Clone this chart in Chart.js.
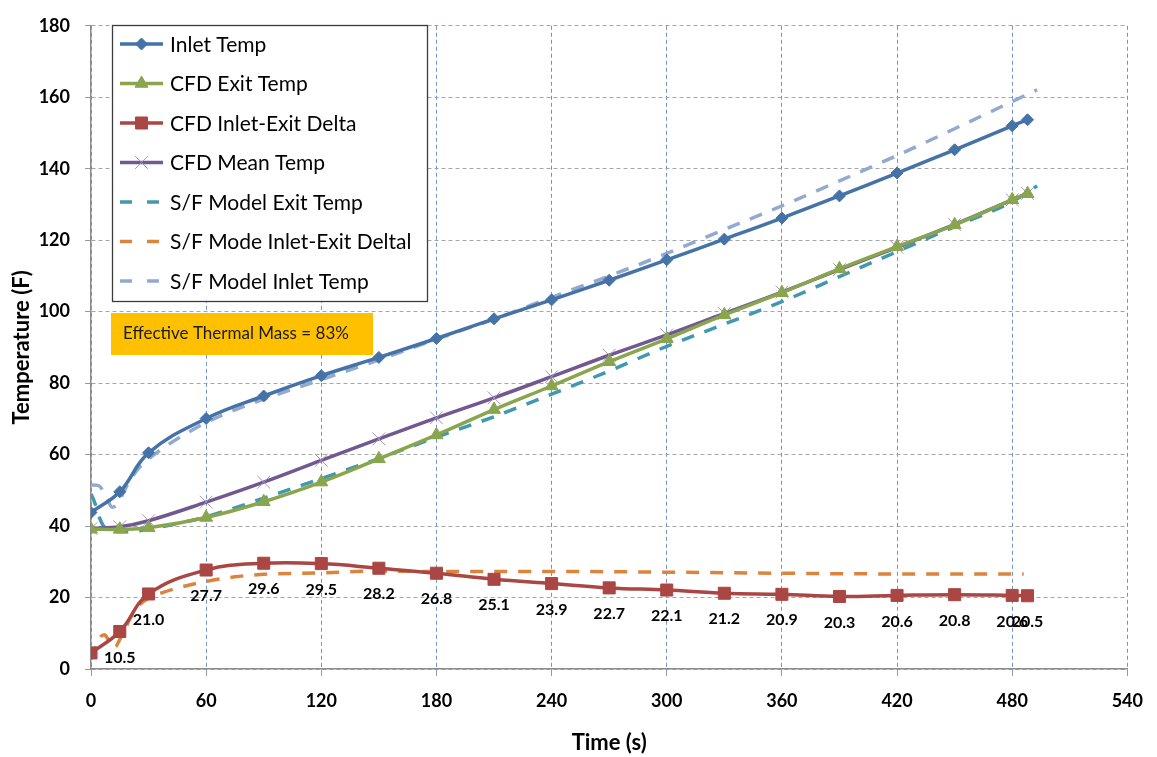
<!DOCTYPE html>
<html><head><meta charset="utf-8">
<script src="https://cdn.jsdelivr.net/npm/chart.js@4.4.1/dist/chart.umd.min.js"></script>
<style>html,body{margin:0;padding:0;background:#fff}</style>
</head><body>
<canvas id="c" width="1157" height="757" style="display:block;width:1157px;height:757px"></canvas>
<script>
// ---- Data ----
const cfdTime      = [0, 15, 30, 60, 90, 120, 150, 180, 210, 240, 270, 300, 330, 360, 390, 420, 450, 480, 488];
const inletTemp    = [43.8, 49.6, 60.5, 70.1, 76.4, 82.1, 87.2, 92.5, 98.0, 103.3, 108.8, 114.5, 120.3, 126.2, 132.4, 138.8, 145.3, 152.0, 153.7];
const cfdExitTemp  = [39.1, 39.1, 39.5, 42.4, 46.8, 52.3, 58.8, 65.5, 72.6, 79.2, 86.0, 92.4, 99.1, 105.3, 112.0, 118.2, 124.3, 131.3, 133.0];
const cfdDelta     = [4.5, 10.5, 21.0, 27.7, 29.6, 29.5, 28.2, 26.8, 25.1, 23.9, 22.7, 22.1, 21.2, 20.9, 20.3, 20.6, 20.8, 20.6, 20.5];
const cfdMeanTemp  = [39.3, 39.8, 41.5, 46.7, 52.3, 58.4, 64.4, 70.3, 75.9, 81.8, 87.8, 93.5, 99.5, 105.5, 111.8, 118.0, 124.4, 131.3, 133.1];

const sfExitTime   = [0, 2, 4, 6, 8, 10, 15, 20, 30, 45, 60, 90, 120, 150, 180, 210, 240, 270, 300, 330, 360, 390, 420, 450, 480, 493];
const sfExitTemp   = [49.0, 46.5, 43.0, 40.5, 39.2, 38.7, 38.4, 38.4, 39.2, 40.7, 42.6, 47.8, 53.3, 58.9, 64.9, 70.6, 76.9, 83.4, 90.3, 96.5, 102.8, 109.8, 116.8, 123.8, 130.8, 135.2];

const sfDeltaTime  = [0, 3, 5, 7, 9, 11, 13, 15, 18, 21, 25, 30, 38, 46, 60, 75, 90, 120, 150, 180, 240, 300, 360, 420, 486];
const sfDelta      = [2.8, 6.8, 9.0, 9.6, 8.2, 6.0, 6.3, 8.3, 11.5, 14.8, 17.8, 19.8, 21.5, 22.8, 24.5, 25.8, 26.5, 26.9, 27.4, 27.3, 27.3, 27.1, 26.8, 26.6, 26.6];

const sfInletTime  = [0, 4, 8, 11, 14, 17, 20, 25, 30, 40, 50, 60, 75, 90, 120, 150, 180, 210, 240, 270, 300, 330, 360, 390, 420, 450, 480, 493];
const sfInletTemp  = [51.5, 51.3, 48.0, 45.3, 46.3, 49.5, 52.5, 56.3, 58.8, 62.7, 66.0, 69.0, 72.5, 75.5, 81.0, 86.5, 92.3, 97.9, 104.0, 110.0, 116.3, 123.0, 129.6, 136.6, 143.7, 151.2, 158.8, 162.1];

const xTicks = [0, 60, 120, 180, 240, 300, 360, 420, 480, 540];
const yTicks = [0, 20, 40, 60, 80, 100, 120, 140, 160, 180];

const seriesNames = ['Inlet Temp', 'CFD Exit Temp', 'CFD Inlet-Exit Delta', 'CFD Mean Temp',
  'S/F Model Exit Temp', 'S/F Mode Inlet-Exit Deltal', 'S/F Model Inlet Temp'];
const annotationText = 'Effective Thermal Mass = 83%';

const pts = (xs, ys) => xs.map((x, i) => ({x: x, y: ys[i]}));
const FONT = 'Lato, "Open Sans", sans-serif';
const DASH = [13, 11];

const datasets = [
  {label: seriesNames[0], data: pts(cfdTime, inletTemp), borderColor: '#4572A7', backgroundColor: '#4572A7',
   borderWidth: 3.5, pointStyle: 'rectRot', pointRadius: 6, pointBorderWidth: 1, pointBorderColor: '#4572A7', tension: 0.4, order: 1},
  {label: seriesNames[1], data: pts(cfdTime, cfdExitTemp), borderColor: '#89A54E', backgroundColor: '#89A54E',
   borderWidth: 3.5, pointStyle: 'triangle', pointRadius: 7.5, pointBorderWidth: 1, pointBorderColor: '#89A54E', tension: 0.4, order: 2},
  {label: seriesNames[2], data: pts(cfdTime, cfdDelta), borderColor: '#AA4643', backgroundColor: '#AA4643',
   borderWidth: 3.5, pointStyle: 'rect', pointRadius: 8.5, pointBorderWidth: 1, pointBorderColor: '#AA4643', tension: 0.4, order: 3},
  {label: seriesNames[3], data: pts(cfdTime, cfdMeanTemp), borderColor: '#71588F', backgroundColor: '#A394C0',
   borderWidth: 3.5, pointStyle: 'crossRot', pointRadius: 9, pointBorderWidth: 1, pointBorderColor: '#A394C0', tension: 0.4, order: 4},
  {label: seriesNames[4], data: pts(sfExitTime, sfExitTemp), borderColor: '#4198AF', backgroundColor: '#4198AF',
   borderWidth: 3.5, borderDash: DASH, pointRadius: 0, cubicInterpolationMode: 'monotone', order: 5},
  {label: seriesNames[5], data: pts(sfDeltaTime, sfDelta), borderColor: '#DB843D', backgroundColor: '#DB843D',
   borderWidth: 3.5, borderDash: DASH, pointRadius: 0, cubicInterpolationMode: 'monotone', order: 6},
  {label: seriesNames[6], data: pts(sfInletTime, sfInletTemp), borderColor: '#93A9CF', backgroundColor: '#93A9CF',
   borderWidth: 3.5, borderDash: DASH, pointRadius: 0, cubicInterpolationMode: 'monotone', order: 7}
];

function marker(ctx, style, r, x, y, fill, stroke, bw) {
  ctx.save();
  ctx.fillStyle = fill; ctx.strokeStyle = stroke; ctx.lineWidth = bw; ctx.setLineDash([]);
  ctx.beginPath();
  if (style === 'rectRot') {
    ctx.moveTo(x, y - r); ctx.lineTo(x + r, y); ctx.lineTo(x, y + r); ctx.lineTo(x - r, y); ctx.closePath();
    ctx.fill(); ctx.stroke();
  } else if (style === 'triangle') {
    const w = r * Math.sqrt(3) / 2;
    ctx.moveTo(x, y - r); ctx.lineTo(x + w, y + r / 2); ctx.lineTo(x - w, y + r / 2); ctx.closePath();
    ctx.fill(); ctx.stroke();
  } else if (style === 'rect') {
    const s = r * Math.SQRT1_2;
    ctx.rect(x - s, y - s, 2 * s, 2 * s); ctx.fill(); ctx.stroke();
  } else if (style === 'crossRot') {
    const s = r * Math.SQRT1_2;
    ctx.moveTo(x - s, y - s); ctx.lineTo(x + s, y + s); ctx.moveTo(x + s, y - s); ctx.lineTo(x - s, y + s); ctx.stroke();
  }
  ctx.restore();
}

const boxLegend = {
  id: 'boxLegend',
  afterDraw(chart) {
    const ctx = chart.ctx;
    ctx.save();
    ctx.fillStyle = '#ffffff';
    ctx.fillRect(112, 25, 315, 276);
    ctx.strokeStyle = '#3c3c3c'; ctx.lineWidth = 1.3;
    ctx.strokeRect(112.5, 25.5, 315, 276);
    chart.data.datasets.forEach((ds, i) => {
      const y = 44 + i * 39.5;
      ctx.save();
      ctx.strokeStyle = ds.borderColor; ctx.lineWidth = ds.borderWidth;
      ctx.setLineDash(ds.borderDash ? [12, 15] : []);
      ctx.beginPath(); ctx.moveTo(120, y); ctx.lineTo(163, y); ctx.stroke();
      ctx.restore();
      if (ds.pointRadius > 0) marker(ctx, ds.pointStyle, ds.pointRadius, 141.5, y, ds.backgroundColor, ds.pointBorderColor, ds.pointBorderWidth);
      ctx.fillStyle = '#000'; ctx.font = '21px ' + FONT; ctx.textBaseline = 'middle'; ctx.textAlign = 'left';
      ctx.fillText(ds.label, 170, y + 1);
    });
    // annotation box
    ctx.fillStyle = '#FFC000';
    ctx.fillRect(111, 313, 262, 42);
    ctx.fillStyle = '#1a1a1a'; ctx.font = '17px ' + FONT; ctx.textBaseline = 'middle';
    ctx.fillText(annotationText, 123, 334);
    ctx.restore();
  }
};

const deltaLabels = {
  id: 'deltaLabels',
  afterDatasetsDraw(chart) {
    const ctx = chart.ctx;
    const meta = chart.getDatasetMeta(2);
    ctx.save();
    ctx.font = 'bold 16px ' + FONT; ctx.fillStyle = '#000';
    ctx.textAlign = 'center'; ctx.textBaseline = 'middle';
    meta.data.forEach((p, i) => {
      if (i === 0) return;
      ctx.fillText(cfdDelta[i].toFixed(1), p.x, p.y + 26);
    });
    ctx.restore();
  }
};

new Chart(document.getElementById('c'), {
  type: 'line',
  data: {datasets: datasets},
  options: {
    responsive: false, animation: false, devicePixelRatio: 1,
    layout: {padding: {top: 16, right: 19, left: 0, bottom: 0}},
    plugins: {legend: {display: false}, tooltip: {enabled: false}},
    scales: {
      x: {
        type: 'linear', min: 0, max: 540,
        afterBuildTicks: s => { s.ticks = xTicks.map(v => ({value: v})); },
        afterFit: s => { s.height = 88; },
        ticks: {color: '#000', font: {family: FONT, size: 18, weight: 'bold'}, padding: 14},
        grid: {color: '#6F94C8', lineWidth: 1, tickLength: 7, tickColor: '#999999', tickBorderDash: [], borderDash: [4, 3]},
        border: {color: '#8c8c8c', width: 1.5, dash: [4, 3]},
        title: {display: true, text: 'Time (s)', color: '#000', font: {family: FONT, size: 22, weight: 'bold'}, padding: {top: 0, bottom: 1}}
      },
      y: {
        type: 'linear', min: 0, max: 180,
        afterBuildTicks: s => { s.ticks = yTicks.map(v => ({value: v})); },
        afterFit: s => { s.width = 91; },
        ticks: {color: '#000', font: {family: FONT, size: 18, weight: 'bold'}, padding: 15},
        grid: {color: '#A6A6A6', lineWidth: 1, tickLength: 6, tickColor: '#999999', tickBorderDash: [], borderDash: [4, 3]},
        border: {color: '#8c8c8c', width: 1.5, dash: [4, 3]},
        title: {display: true, text: 'Temperature (F)', color: '#000', font: {family: FONT, size: 22, weight: 'bold'}, padding: {top: 8.5, bottom: 0}}
      }
    }
  },
  plugins: [deltaLabels, boxLegend]
});
</script>
</body></html>
